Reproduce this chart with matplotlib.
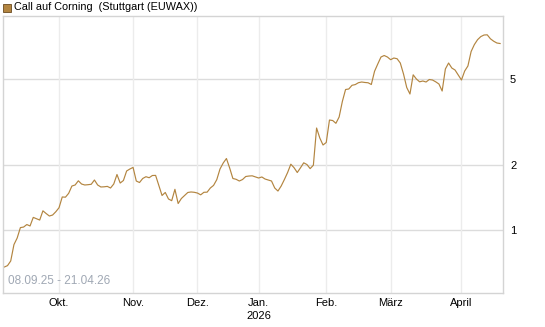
import matplotlib
matplotlib.use("Agg")
from matplotlib import pyplot as plt
from matplotlib.patches import Rectangle

plt.rcParams['font.family'] = ['Liberation Sans', 'DejaVu Sans']

# daily closes, trading days 08.09.25 .. 21.04.26
prices = [
    0.674, 0.684, 0.719, 0.856, 0.918, 1.026, 1.032, 1.060, 1.044, 1.144,
    1.128, 1.112, 1.227, 1.192, 1.161, 1.173, 1.215, 1.268, 1.422, 1.419,
    1.479, 1.598, 1.616, 1.690, 1.633, 1.616, 1.621, 1.628, 1.704, 1.616,
    1.582, 1.585, 1.592, 1.565, 1.633, 1.807, 1.650, 1.695, 1.876, 1.916,
    1.949, 1.686, 1.659, 1.732, 1.765, 1.746, 1.788, 1.790, 1.607, 1.445,
    1.492, 1.392, 1.367, 1.543, 1.326, 1.399, 1.445, 1.492, 1.500, 1.495,
    1.483, 1.455, 1.495, 1.497, 1.565, 1.609, 1.711, 1.916, 2.043, 2.143,
    1.937, 1.732, 1.717, 1.686, 1.713, 1.769, 1.778, 1.782, 1.762, 1.741,
    1.760, 1.722, 1.704, 1.686, 1.565, 1.515, 1.598, 1.713, 1.846, 2.017,
    1.943, 1.846, 1.941, 2.047, 2.010, 1.924, 1.995, 2.966, 2.666, 2.475,
    2.542, 3.230, 3.213, 3.119, 3.335, 3.935, 4.472, 4.496, 4.677, 4.712,
    4.808, 4.844, 4.820, 4.805, 4.717, 5.429, 5.868, 6.323, 6.425, 6.323,
    6.144, 6.256, 6.209, 5.931, 5.275, 4.568, 4.262, 5.230, 5.001, 4.854,
    4.896, 4.844, 4.975, 4.948, 4.854, 4.742, 4.400, 5.564, 5.931, 5.623,
    5.505, 5.219, 4.948, 5.446, 5.745, 6.705, 7.217, 7.604, 7.859, 7.994,
    8.011, 7.677, 7.483, 7.341, 7.302,
]

# index of first trading day of each month
month_idx = [17, 40, 60, 79, 100, 120, 142]
month_labels = ["Okt.", "Nov.", "Dez.", "Jan.\n2026", "Feb.", "März", "April"]
y_ticks = [1, 2, 5]
y_labels = ["1", "2", "5"]

title = "Call auf Corning  (Stuttgart (EUWAX))"
date_range = "08.09.25 - 21.04.26"
line_color = "#b38540"

fig = plt.figure(figsize=(5.45, 3.27), dpi=100)
ax = fig.add_axes([3 / 545, (327 - 292.7) / 327, 500 / 545, 276.7 / 327])

ax.plot(range(len(prices)), prices, color=line_color, lw=0.85)

ax.set_yscale("log")
ax.set_ylim(0.5126, 9.79)
ax.set_xlim(-0.4, 154.9)

ax.set_yticks(y_ticks)
ax.set_yticklabels(y_labels)
ax.yaxis.set_minor_locator(matplotlib.ticker.NullLocator())
ax.yaxis.tick_right()
ax.set_xticks(month_idx)
ax.set_xticklabels(month_labels, linespacing=1.3)
ax.tick_params(axis="both", length=0, labelsize=8, colors="#000000")
ax.tick_params(axis="y", pad=5)
ax.tick_params(axis="x", pad=4)

for v in y_ticks:
    ax.axhline(v, color="#dcdcdc", lw=1, zorder=0)
for m in month_idx:
    ax.axvline(m, color="#ececec", lw=1, zorder=0)

for s in ax.spines.values():
    s.set_color("#d4d4d4")
    s.set_linewidth(1)

ax.text(0.011, 0.022, date_range, transform=ax.transAxes, fontsize=8.5,
        color="#a0a8b4", ha="left", va="bottom")

fig.add_artist(Rectangle((3 / 545, 1 - 12 / 327), 8 / 545, 8 / 327,
                         transform=fig.transFigure, facecolor=line_color,
                         edgecolor="#6a4a20", lw=0.6))
fig.text(14 / 545, 1 - 7.5 / 327, title, fontsize=7.8, color="#000000",
         ha="left", va="center")

fig.savefig("out.png", dpi=100)
